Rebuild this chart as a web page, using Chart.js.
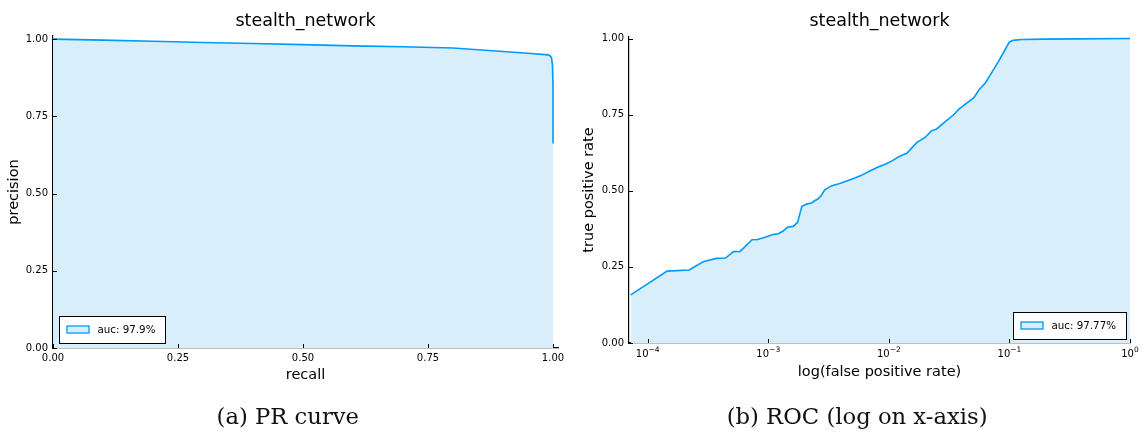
<!DOCTYPE html>
<html>
<head>
<meta charset="utf-8">
<script src="https://cdn.jsdelivr.net/npm/chart.js@4.4.1/dist/chart.umd.min.js"></script>
<style>
  html, body { margin: 0; padding: 0; background: #fff; }
  #fig { position: relative; width: 1144px; height: 434px; overflow: hidden; }
  .panel { position: absolute; top: 0; width: 572px; height: 434px; }
  .caption {
    position: absolute; white-space: nowrap; color: #111;
    font-family: 'DejaVu Serif', serif; font-size: 22.7px; line-height: 22.7px;
    transform: translateX(-50%);
  }
</style>
</head>
<body>
<div id="fig">
  <div class="panel" style="left:0"><canvas id="pr" width="572" height="434"></canvas></div>
  <div class="panel" style="left:572px"><canvas id="roc" width="572" height="434"></canvas></div>
  <div class="caption" style="left:287.8px; top:405px">(a) PR curve</div>
  <div class="caption" style="left:857.1px; top:405px">(b) ROC (log on x-axis)</div>
</div>
<script>
// ---- data ----
const panelTitle = 'stealth_network';

// precision-recall curve
const prRecall    = [0, 0.1, 0.2, 0.3, 0.4, 0.5, 0.6, 0.7, 0.8, 0.9, 0.95, 0.99, 0.994, 0.997, 0.999, 1.0, 1.0];
const prPrecision = [1.0, 0.9965, 0.993, 0.989, 0.9855, 0.982, 0.978, 0.975, 0.971, 0.960, 0.954, 0.949, 0.946, 0.940, 0.915, 0.85, 0.662];
const prAucLabel  = 'auc: 97.9%';

// ROC curve (false positive rate on a log axis)
const rocFpr = [7.235e-5, 1.45e-4, 2.21e-4, 2.88e-4, 3.71e-4, 4.42e-4, 5.15e-4, 5.85e-4, 7.34e-4, 8.18e-4,
                9.71e-4, 1.087e-3, 1.21e-3, 1.32e-3, 1.44e-3, 1.61e-3, 1.75e-3, 1.90e-3, 2.11e-3, 2.29e-3,
                2.44e-3, 2.58e-3, 2.76e-3, 2.94e-3, 3.33e-3, 3.97e-3, 4.52e-3, 5.15e-3, 5.81e-3, 6.81e-3,
                8.23e-3, 9.34e-3, 1.06e-2, 1.24e-2, 1.41e-2, 1.71e-2, 2.0e-2, 2.24e-2, 2.49e-2, 2.97e-2,
                3.41e-2, 3.82e-2, 4.39e-2, 5.06e-2, 5.56e-2, 6.31e-2, 7.15e-2, 8.10e-2, 9.08e-2, 9.96e-2,
                0.107, 0.126, 0.195, 0.363, 1.0];
const rocTpr = [0.158, 0.236, 0.240, 0.267, 0.278, 0.279, 0.300, 0.301, 0.339, 0.340,
                0.349, 0.356, 0.359, 0.367, 0.380, 0.383, 0.396, 0.449, 0.457, 0.460,
                0.468, 0.473, 0.485, 0.503, 0.516, 0.525, 0.533, 0.541, 0.549, 0.563,
                0.579, 0.587, 0.598, 0.614, 0.623, 0.659, 0.675, 0.696, 0.703, 0.729,
                0.748, 0.768, 0.787, 0.805, 0.830, 0.854, 0.889, 0.924, 0.959, 0.988,
                0.994, 0.997, 0.998, 0.999, 1.0];
const rocAucLabel = 'auc: 97.77%';

// axis ticks
const unitTicks = [0, 0.25, 0.5, 0.75, 1.0];
const fprTicks  = [1e-4, 1e-3, 1e-2, 1e-1, 1];

// ---- styling ----
const LINE = '#009AFA';
const FILL = 'rgb(217,238,251)';
const INK  = '#000';
const SANS = "'DejaVu Sans', sans-serif";

Chart.defaults.font.family = SANS;
Chart.defaults.color = INK;

const fixed2 = v => Number(v).toFixed(2);
const toPoints = (xs, ys) => xs.map((x, i) => ({ x, y: ys[i] }));

// centre the panel title over the plot area rather than the whole canvas
const centreTitle = {
  id: 'centreTitle',
  afterLayout(chart) {
    const t = chart.titleBlock;
    if (!t) return;
    t.left = chart.chartArea.left;
    t.right = chart.chartArea.right;
    t.width = t.right - t.left;
  }
};

// short tick marks pointing into the plot area
const innerTicks = {
  id: 'innerTicks',
  afterDatasetsDraw(chart, args, opts) {
    const { ctx, chartArea: a, scales: { x, y } } = chart;
    const len = opts.length || 4;
    ctx.save();
    ctx.strokeStyle = INK;
    ctx.lineWidth = 1;
    ctx.beginPath();
    x.ticks.forEach(t => {
      const px = Math.round(x.getPixelForValue(t.value)) + 0.5;
      ctx.moveTo(px, a.bottom); ctx.lineTo(px, a.bottom - len);
    });
    y.ticks.forEach(t => {
      const py = Math.round(y.getPixelForValue(t.value)) + 0.5;
      ctx.moveTo(a.left, py); ctx.lineTo(a.left + len, py);
    });
    ctx.stroke();
    ctx.restore();
  }
};

// power-of-ten labels ("10" with a raised exponent) under a logarithmic x axis
const powerLabels = {
  id: 'powerLabels',
  afterDraw(chart, args, opts) {
    if (!opts.enabled) return;
    const { ctx, chartArea: a, scales: { x } } = chart;
    ctx.save();
    ctx.fillStyle = INK;
    ctx.textBaseline = 'alphabetic';
    ctx.textAlign = 'left';
    x.ticks.forEach(t => {
      const exp = String(Math.round(Math.log10(t.value))).replace('-', '\u2212');
      ctx.font = opts.baseSize + 'px ' + SANS;
      const wb = ctx.measureText('10').width;
      ctx.font = opts.expSize + 'px ' + SANS;
      const we = ctx.measureText(exp).width;
      const x0 = x.getPixelForValue(t.value) - (wb + we) / 2;
      ctx.font = opts.baseSize + 'px ' + SANS;
      ctx.fillText('10', x0, a.bottom + opts.baseDrop);
      ctx.font = opts.expSize + 'px ' + SANS;
      ctx.fillText(exp, x0 + wb, a.bottom + opts.expDrop);
    });
    ctx.restore();
  }
};

// framed legend placed inside a lower corner of the plot area
const insetLegend = {
  id: 'insetLegend',
  afterDraw(chart, args, opts) {
    const ds = chart.data.datasets[0];
    const { ctx, chartArea: a } = chart;
    ctx.save();
    ctx.font = opts.fontSize + 'px ' + SANS;
    const tw = ctx.measureText(ds.label).width;
    const w = Math.round(8 + 22 + 8.5 + tw + 9.5), h = 27;
    const bx = Math.round(opts.side === 'left' ? a.left + opts.dx : a.right - opts.dx - w);
    const by = Math.round(a.bottom - opts.dy - h);
    ctx.fillStyle = '#fff';
    ctx.fillRect(bx, by, w, h);
    ctx.strokeStyle = INK;
    ctx.lineWidth = 1;
    ctx.strokeRect(bx + 0.5, by + 0.5, w, h);
    const cy = by + h / 2;
    ctx.fillStyle = ds.backgroundColor;
    ctx.fillRect(bx + 8, cy - 3.5, 22, 7);
    ctx.strokeStyle = ds.borderColor;
    ctx.lineWidth = 1.3;
    ctx.strokeRect(bx + 8, cy - 3.5, 22, 7);
    ctx.fillStyle = INK;
    ctx.textBaseline = 'middle';
    ctx.textAlign = 'left';
    ctx.fillText(ds.label, bx + 38.5, cy + 0.5);
    ctx.restore();
  }
};

function axis(o) {
  return {
    type: o.type, min: o.min, max: o.max, position: o.position,
    border: { display: true, color: INK, width: 1.2 },
    grid: { display: false, drawTicks: false },
    ticks: { display: o.showLabels !== false, padding: o.tickPad, font: { size: 10 }, color: INK,
             maxRotation: 0, autoSkip: false, callback: o.format },
    title: { display: true, text: o.title, color: INK, font: { size: 14.5 }, padding: o.titlePad },
    afterBuildTicks: s => { s.ticks = o.ticks.map(v => ({ value: v })); },
    afterFit: s => {
      if (o.position === 'bottom') s.height = o.size; else s.width = o.size;
      s.paddingLeft = 0; s.paddingRight = 0; s.paddingTop = 0; s.paddingBottom = 0;
    }
  };
}

function makePanel(id, p) {
  return new Chart(document.getElementById(id), {
    type: 'line',
    data: {
      datasets: [{
        label: p.label, data: p.data,
        borderColor: LINE, backgroundColor: FILL, borderWidth: 1.6,
        pointRadius: 0, fill: 'origin', tension: 0
      }]
    },
    options: {
      responsive: false, animation: false, devicePixelRatio: 1,
      layout: { autoPadding: false, padding: p.padding },
      plugins: {
        legend: { display: false },
        tooltip: { enabled: false },
        title: { display: true, text: panelTitle, color: INK, font: { size: 17.5, weight: 'normal' }, padding: p.titlePad },
        insetLegend: p.legend,
        innerTicks: { length: 4 },
        powerLabels: p.powerLabels || { enabled: false }
      },
      scales: { x: axis(p.x), y: axis(p.y) }
    },
    plugins: [centreTitle, innerTicks, powerLabels, insetLegend]
  });
}

makePanel('pr', {
  label: prAucLabel,
  data: toPoints(prRecall, prPrecision),
  padding: { left: 0, right: 14, top: 0, bottom: 46 },
  titlePad: { top: 11, bottom: 4 },
  legend: { side: 'left', dx: 6, dy: 5, fontSize: 10.3 },
  x: { type: 'linear', position: 'bottom', min: 0, max: 1.01, ticks: unitTicks, format: fixed2,
       title: 'recall', size: 40, tickPad: 4, titlePad: { top: 0, bottom: 4.5 } },
  y: { type: 'linear', position: 'left', min: 0, max: 1.01, ticks: unitTicks, format: fixed2,
       title: 'precision', size: 53, tickPad: 5, titlePad: { top: 5.8, bottom: 0 } }
});

makePanel('roc', {
  label: rocAucLabel,
  data: toPoints(rocFpr, rocTpr),
  padding: { left: 0, right: 14, top: 0, bottom: 49 },
  titlePad: { top: 11, bottom: 5 },
  legend: { side: 'right', dx: 4, dy: 4, fontSize: 10.3 },
  powerLabels: { enabled: true, baseSize: 10, expSize: 7.5, baseDrop: 13.7, expDrop: 9.3 },
  x: { type: 'logarithmic', position: 'bottom', min: 7.235e-5, max: 1, ticks: fprTicks, showLabels: false,
       title: 'log(false positive rate)', size: 42, tickPad: 7, titlePad: { top: 0, bottom: 4 } },
  y: { type: 'linear', position: 'left', min: 0, max: 1.005, ticks: unitTicks, format: fixed2,
       title: 'true positive rate', size: 57, tickPad: 5, titlePad: { top: 8.3, bottom: 0 } }
});
</script>
</body>
</html>
